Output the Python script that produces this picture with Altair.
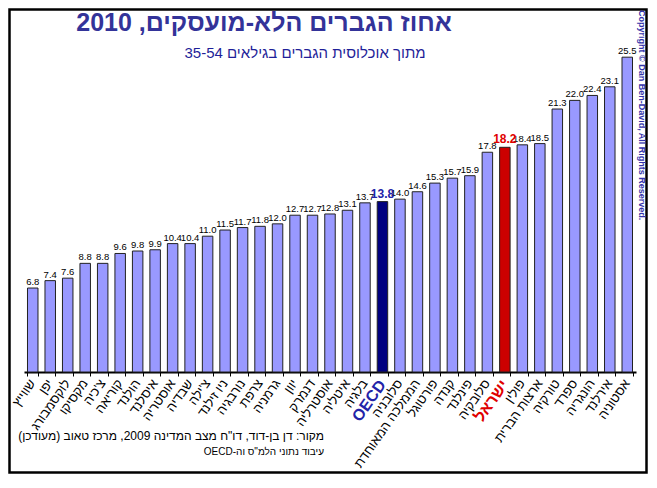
import altair as alt
import pandas as pd

FONT = "Liberation Sans"

countries = ["שווייץ", "יפן", "לוקסמבורג", "מקסיקו", "צ'כיה", "קוריאה", "הולנד", "איסלנד",
             "אוסטריה", "שבדיה", "צ'ילה", "ניו זילנד", "נורבגיה", "צרפת", "גרמניה", "יוון",
             "דנמרק", "אוסטרליה", "איטליה", "בלגיה", "OECD", "סלובניה", "הממלכה המאוחדת",
             "פורטוגל", "קנדה", "פינלנד", "סלובקיה", "ישראל", "פולין", "ארצות הברית",
             "טורקיה", "ספרד", "הונגריה", "אירלנד", "אסטוניה"]
values = [6.8, 7.4, 7.6, 8.8, 8.8, 9.6, 9.8, 9.9, 10.4, 10.4, 11.0, 11.5, 11.7, 11.8, 12.0,
          12.7, 12.7, 12.8, 13.1, 13.7, 13.8, 14.0, 14.6, 15.3, 15.7, 15.9, 17.8, 18.2,
          18.4, 18.5, 21.3, 22.0, 22.4, 23.1, 25.5]

title_text = "אחוז הגברים הלא-מועסקים, 2010"
subtitle_text = "מתוך אוכלוסית הגברים בגילאים 35-54"
source_line1 = "מקור:  דן בן-דוד, דו\"ח מצב המדינה 2009, מרכז טאוב (מעודכן)"
source_line2 = "עיבוד נתוני הלמ\"ס וה-OECD"
copyright_text = "Copyright © Dan Ben-David, All Rights Reserved."

special_fill = {"OECD": "#000080", "ישראל": "#CC0000"}
special_text = {"OECD": "#2323A8", "ישראל": "#E00000"}


def rtl(s):
    return "\u202b" + s + "\u202c"


W, H = 612, 321
L, T = 16, 43
TOTAL_W, TOTAL_H = 640, 466
R = TOTAL_W - L - W
B = TOTAL_H - T - H

df = pd.DataFrame({"country": countries, "value": values})
df["fill"] = [special_fill.get(c, "#9999FF") for c in countries]
df["tcolor"] = [special_text.get(c, "black") for c in countries]
df["special"] = [c in special_fill for c in countries]

x = alt.X("country:N", sort=None,
          scale=alt.Scale(paddingInner=0.4, paddingOuter=0.2),
          axis=alt.Axis(title=None, labels=False, tickBand="extent", tickSize=4,
                        tickColor="black", tickWidth=1, domainColor="black",
                        domainWidth=2, grid=False))
y = alt.Y("value:Q", scale=alt.Scale(domain=[0, 26]), axis=None)

base = alt.Chart(df)

bars = base.mark_bar(stroke="#222222", strokeWidth=1).encode(
    x=x, y=y, fill=alt.Fill("fill:N", scale=None))

vals = base.mark_text(baseline="bottom", dy=-1, font=FONT, fontSize=9.5).encode(
    x=x, y=y, text=alt.Text("value:Q", format=".1f")
).transform_filter("!datum.special")

vals_sp = base.mark_text(baseline="bottom", dy=-1, font=FONT, fontSize=12,
                         fontWeight="bold").encode(
    x=x, y=y, text=alt.Text("value:Q", format=".1f"),
    color=alt.Color("tcolor:N", scale=None)
).transform_filter("datum.special")

names = base.mark_text(angle=305, align="right", baseline="middle", font=FONT,
                       fontSize=13).encode(
    x=x, y=alt.value(H + 9), text="country:N"
).transform_filter("!datum.special")

names_sp = base.mark_text(angle=305, align="right", baseline="middle", font=FONT,
                          fontSize=16, fontWeight="bold").encode(
    x=x, y=alt.value(H + 10), text="country:N",
    color=alt.Color("tcolor:N", scale=None)
).transform_filter("datum.special")

one = pd.DataFrame({"k": [0]})

frame = alt.Chart(one).mark_rect(filled=False, stroke="black", strokeWidth=2.5).encode(
    x=alt.value(-L + 1.5), x2=alt.value(W + R - 1.5),
    y=alt.value(-T + 1.5), y2=alt.value(H + B - 1.5))

title = alt.Chart(one).mark_text(font=FONT, fontSize=25, fontWeight="bold",
                                 color="#333399", align="center",
                                 baseline="middle").encode(
    x=alt.value(240), y=alt.value(-28), text=alt.value(rtl(title_text)))

subtitle = alt.Chart(one).mark_text(font=FONT, fontSize=15, color="#1F1F99",
                                    align="center", baseline="middle").encode(
    x=alt.value(281), y=alt.value(2), text=alt.value(rtl(subtitle_text)))

copyright = alt.Chart(one).mark_text(font=FONT, fontSize=9, fontWeight="bold",
                                     color="#3333AA", angle=90, align="left",
                                     baseline="middle").encode(
    x=alt.value(618), y=alt.value(-41), text=alt.value(copyright_text))

src1 = alt.Chart(one).mark_text(font=FONT, fontSize=12, color="black", align="right",
                                baseline="middle").encode(
    x=alt.value(300), y=alt.value(385), text=alt.value(rtl(source_line1)))

src2 = alt.Chart(one).mark_text(font=FONT, fontSize=10, color="black", align="right",
                                baseline="middle").encode(
    x=alt.value(300), y=alt.value(401), text=alt.value(rtl(source_line2)))

chart = alt.layer(frame, bars, vals, vals_sp, names, names_sp, title, subtitle,
                  copyright, src1, src2).properties(
    width=W, height=H,
    padding={"left": L, "top": T, "right": R, "bottom": B},
    autosize=alt.AutoSizeParams(type="none"),
    background="white",
).configure_view(stroke=None)

chart.save("out.html", embed_options={"renderer": "svg", "actions": False})
